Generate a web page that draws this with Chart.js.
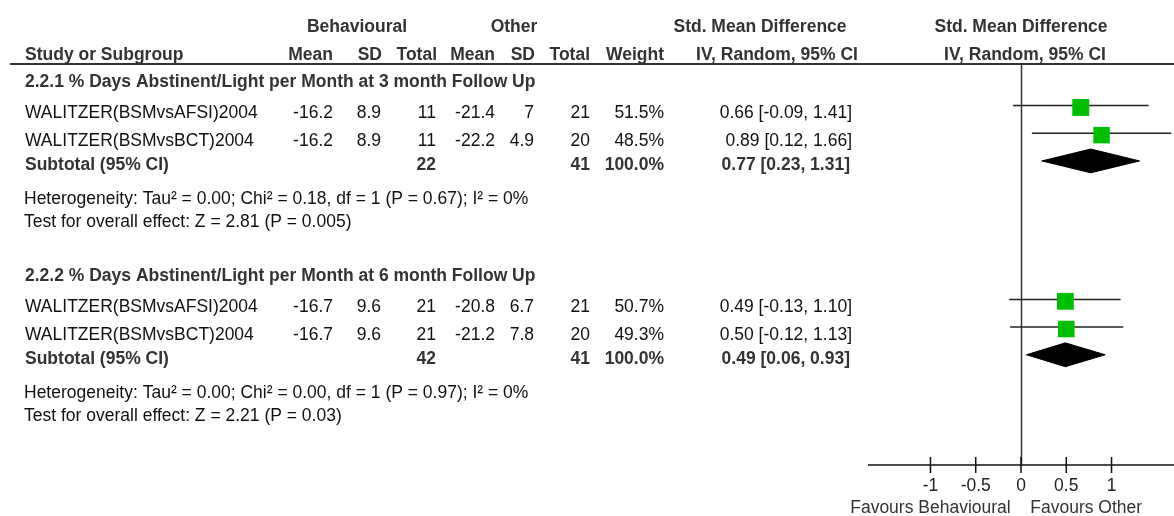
<!DOCTYPE html>
<html>
<head>
<meta charset="utf-8">
<script src="https://cdn.jsdelivr.net/npm/chart.js@4.4.1/dist/chart.umd.min.js"></script>
<style>
  html, body { margin: 0; padding: 0; background: #fff; }
  canvas { display: block; }
</style>
</head>
<body>
<canvas id="forest" width="1174" height="516"></canvas>
<script>
// ---- data ----
const subgroups = [
  "2.2.1 % Days Abstinent/Light per Month at 3 month Follow Up",
  "2.2.2 % Days Abstinent/Light per Month at 6 month Follow Up"
];
const studyNames = ["WALITZER(BSMvsAFSI)2004", "WALITZER(BSMvsBCT)2004",
                    "WALITZER(BSMvsAFSI)2004", "WALITZER(BSMvsBCT)2004"];
const studyGroup = [0, 0, 1, 1];
const behMean = [-16.2, -16.2, -16.7, -16.7];
const behSD   = [8.9, 8.9, 9.6, 9.6];
const behN    = [11, 11, 21, 21];
const othMean = [-21.4, -22.2, -20.8, -21.2];
const othSD   = [7, 4.9, 6.7, 7.8];
const othN    = [21, 20, 21, 20];
const weights = [51.5, 48.5, 50.7, 49.3];
const smd     = [0.66, 0.89, 0.49, 0.50];
const ciLow   = [-0.09, 0.12, -0.13, -0.12];
const ciHigh  = [1.41, 1.66, 1.10, 1.13];

const subBehN   = [22, 42];
const subOthN   = [41, 41];
const subWeight = [100.0, 100.0];
const subSmd    = [0.77, 0.49];
const subLow    = [0.23, 0.06];
const subHigh   = [1.31, 0.93];
const heterogeneity = [
  "Heterogeneity: Tau² = 0.00; Chi² = 0.18, df = 1 (P = 0.67); I² = 0%",
  "Heterogeneity: Tau² = 0.00; Chi² = 0.00, df = 1 (P = 0.97); I² = 0%"
];
const overallEffect = [
  "Test for overall effect: Z = 2.81 (P = 0.005)",
  "Test for overall effect: Z = 2.21 (P = 0.03)"
];

const xTicks = [-1, -0.5, 0, 0.5, 1];
const xTickLabels = ["-1", "-0.5", "0", "0.5", "1"];
const favours = ["Favours Behavioural", "Favours Other"];

// ---- layout (row units on the y scale) ----
const groupGap = 7;
const studyRow = (i) => studyGroup[i] * groupGap + 1.5 + (i % 2);
const subRow = (g) => g * groupGap + 3.5;
const diamondHalf = 0.43;

const FONT = '"Liberation Sans", Arial, sans-serif';
const SIZE = 17.5;
const STRETCH = 1.07; // the source text is a touch taller than plain Arial

const ciLines = studyNames.map((_, i) => ({
  type: 'line',
  data: [{ x: ciLow[i], y: studyRow(i) }, { x: ciHigh[i], y: studyRow(i) }],
  borderColor: '#222', borderWidth: 1.5, pointRadius: 0, fill: false, order: 2
}));

const diamonds = subgroups.map((_, g) => {
  const r = subRow(g);
  return {
    type: 'line',
    data: [
      { x: subLow[g], y: r }, { x: subSmd[g], y: r - diamondHalf },
      { x: subHigh[g], y: r }, { x: subSmd[g], y: r + diamondHalf },
      { x: subLow[g], y: r }
    ],
    borderColor: '#000', backgroundColor: '#000', borderWidth: 1,
    pointRadius: 0, tension: 0, fill: 'shape', order: 1
  };
});

const squares = {
  type: 'scatter',
  data: smd.map((v, i) => ({ x: v, y: studyRow(i) + 0.07 })),
  pointStyle: 'rect',
  pointRadius: weights.map(w => 1.67 * Math.sqrt(w)),
  pointHoverRadius: weights.map(w => 1.67 * Math.sqrt(w)),
  backgroundColor: '#00bf00', borderWidth: 0, order: 0
};

function txt(ctx, s, x, y, align, bold, color) {
  ctx.save();
  ctx.font = (bold ? 'bold ' : '') + SIZE + 'px ' + FONT;
  ctx.textAlign = align;
  ctx.textBaseline = 'alphabetic';
  ctx.fillStyle = color || (bold ? '#333' : '#111');
  ctx.translate(x, y);
  ctx.scale(1, STRETCH);
  ctx.fillText(s, 0, 0);
  ctx.restore();
}

const tablePlugin = {
  id: 'forestTable',
  beforeDatasetsDraw(chart) {
    const { ctx, chartArea, scales: { x } } = chart;
    ctx.save();
    // header rule
    ctx.strokeStyle = '#333';
    ctx.lineWidth = 2;
    ctx.beginPath();
    ctx.moveTo(10, chartArea.top);
    ctx.lineTo(chart.width, chartArea.top);
    ctx.stroke();
    // line of no effect
    const x0 = Math.round(x.getPixelForValue(0)) + 0.5;
    ctx.lineWidth = 1.5;
    ctx.beginPath();
    ctx.moveTo(x0, chartArea.top);
    ctx.lineTo(x0, chartArea.bottom);
    ctx.stroke();
    // bottom axis
    const ay = chartArea.bottom;
    ctx.strokeStyle = '#111';
    ctx.beginPath();
    ctx.moveTo(chartArea.left, ay);
    ctx.lineTo(chartArea.right, ay);
    xTicks.forEach(v => {
      const px = x.getPixelForValue(v);
      ctx.moveTo(px, ay - 8);
      ctx.lineTo(px, ay + 8);
    });
    ctx.stroke();
    xTicks.forEach((v, i) => txt(ctx, xTickLabels[i], x.getPixelForValue(v), ay + 26, 'center', false, '#222'));
    txt(ctx, favours[0], x.getPixelForValue(-1.0), ay + 48, 'center', false, '#333');
    txt(ctx, favours[1], x.getPixelForValue(0.72), ay + 48, 'center', false, '#333');
    ctx.restore();
  },
  afterDraw(chart) {
    const { ctx, scales: { y } } = chart;
    const py = (v) => y.getPixelForValue(v);
    // column headers
    const h1 = py(-1.155), h2 = py(-0.162);
    txt(ctx, 'Behavioural', 357, h1, 'center', true);
    txt(ctx, 'Other', 514, h1, 'center', true);
    txt(ctx, 'Std. Mean Difference', 760, h1, 'center', true);
    txt(ctx, 'Std. Mean Difference', 1021, h1, 'center', true);
    txt(ctx, 'Study or Subgroup', 25, h2, 'left', true);
    txt(ctx, 'Mean', 333, h2, 'right', true);
    txt(ctx, 'SD', 382, h2, 'right', true);
    txt(ctx, 'Total', 437, h2, 'right', true);
    txt(ctx, 'Mean', 495, h2, 'right', true);
    txt(ctx, 'SD', 535, h2, 'right', true);
    txt(ctx, 'Total', 590, h2, 'right', true);
    txt(ctx, 'Weight', 664, h2, 'right', true);
    txt(ctx, 'IV, Random, 95% CI', 777, h2, 'center', true);
    txt(ctx, 'IV, Random, 95% CI', 1025, h2, 'center', true);

    const ci = (m, lo, hi) => m.toFixed(2) + ' [' + lo.toFixed(2) + ', ' + hi.toFixed(2) + ']';

    subgroups.forEach((name, g) => {
      const base = g * groupGap;
      txt(ctx, name, 25, py(base + 0.83), 'left', true);
      const st = py(base + 3.83);
      txt(ctx, 'Subtotal (95% CI)', 25, st, 'left', true);
      txt(ctx, String(subBehN[g]), 436, st, 'right', true);
      txt(ctx, String(subOthN[g]), 590, st, 'right', true);
      txt(ctx, subWeight[g].toFixed(1) + '%', 664, st, 'right', true);
      txt(ctx, ci(subSmd[g], subLow[g], subHigh[g]), 850, st, 'right', true);
      txt(ctx, heterogeneity[g], 24, py(base + 5.05), 'left', false);
      txt(ctx, overallEffect[g], 24, py(base + 5.88), 'left', false);
    });

    studyNames.forEach((name, i) => {
      const ry = py(studyRow(i) + 0.45);
      txt(ctx, name, 25, ry, 'left', false);
      txt(ctx, String(behMean[i]), 333, ry, 'right', false);
      txt(ctx, String(behSD[i]), 381, ry, 'right', false);
      txt(ctx, String(behN[i]), 436, ry, 'right', false);
      txt(ctx, String(othMean[i]), 495, ry, 'right', false);
      txt(ctx, String(othSD[i]), 534, ry, 'right', false);
      txt(ctx, String(othN[i]), 590, ry, 'right', false);
      txt(ctx, weights[i].toFixed(1) + '%', 664, ry, 'right', false);
      txt(ctx, ci(smd[i], ciLow[i], ciHigh[i]), 852, ry, 'right', false);
    });
  }
};

new Chart(document.getElementById('forest'), {
  type: 'scatter',
  data: { datasets: [squares, ...diamonds, ...ciLines] },
  options: {
    responsive: false,
    animation: false,
    devicePixelRatio: 1,
    layout: { autoPadding: false, padding: { left: 868, right: 0, top: 64, bottom: 51 } },
    scales: {
      x: { type: 'linear', min: -1.69, max: 1.69, display: false },
      y: { type: 'linear', min: 0, max: 14.48, reverse: true, display: false }
    },
    plugins: { legend: { display: false }, tooltip: { enabled: false } }
  },
  plugins: [tablePlugin]
});
</script>
</body>
</html>
